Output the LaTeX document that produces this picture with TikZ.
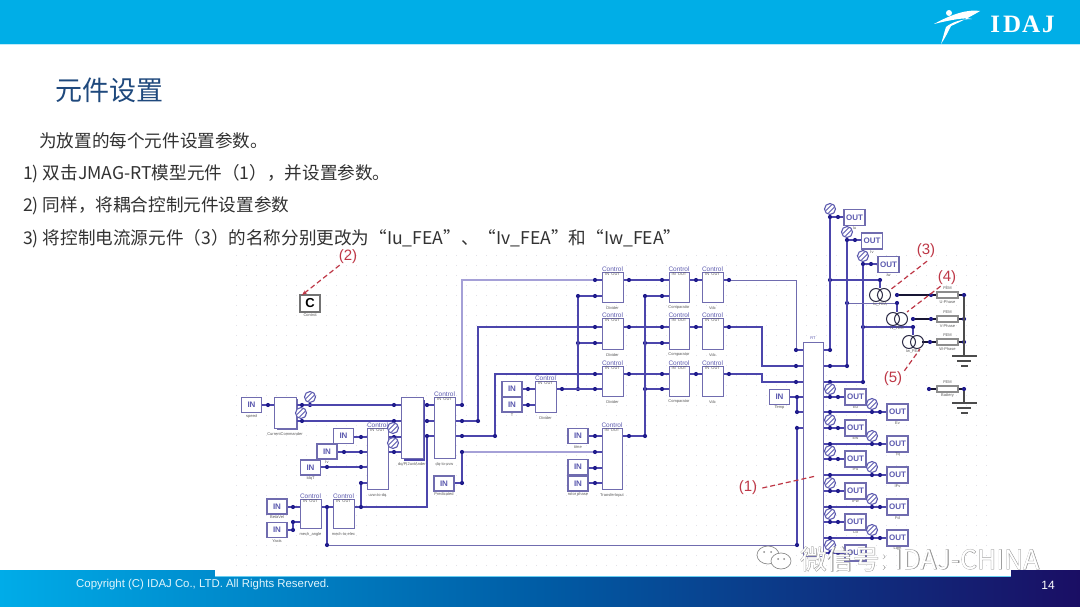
\documentclass[tikz,border=0pt]{standalone}
\usepackage{fontspec}
\setmainfont{Liberation Sans}
\newfontfamily\cjk{Noto Sans CJK SC}
\newfontfamily\cjkwm[FakeBold=2.2]{Noto Sans CJK SC}
\newfontfamily\logof{Liberation Serif}
\usetikzlibrary{arrows.meta,calc}
\definecolor{hdr}{RGB}{0,174,231}
\definecolor{ttl}{RGB}{31,73,125}
\definecolor{bodyc}{RGB}{50,50,50}
\definecolor{wiredk}{RGB}{76,70,172}
\definecolor{wirelt}{RGB}{165,160,215}
\definecolor{boxc}{RGB}{112,108,175}
\definecolor{dotc}{RGB}{32,28,140}
\definecolor{inkc}{RGB}{92,90,175}
\definecolor{redc}{RGB}{190,55,70}
\definecolor{griddot}{RGB}{225,225,232}
\definecolor{footl}{RGB}{0,172,232}
\definecolor{footm}{RGB}{0,92,165}
\definecolor{footr}{RGB}{26,14,100}
\tikzset{
 wire/.style={draw=wiredk,line width=1.15pt},
 wirem/.style={draw=boxc,line width=1pt},
 wirel/.style={draw=wirelt,line width=1.15pt},
 jd/.style={circle,fill=dotc,inner sep=0pt,minimum size=4.2pt},
 cbox/.style={draw=boxc,line width=1.1pt,fill=white,inner sep=0pt,rectangle},
 inb/.style={draw=boxc,line width=1.2pt,fill=white,inner sep=0pt,minimum width=20pt,minimum height=15pt,text=inkc,font=\bfseries\fontsize{8}{8}\selectfont},
 outb/.style={draw=boxc,line width=1.2pt,fill=white,inner sep=0pt,minimum width=21pt,minimum height=16pt,text=inkc,font=\bfseries\fontsize{8}{8}\selectfont},
 ctl/.style={text=inkc,font=\fontsize{6.5}{6.5}\selectfont,inner sep=0pt},
 tiny/.style={text=black!65,font=\fontsize{4}{4}\selectfont,inner sep=0pt},
 probe/.style={circle,draw=inkc,line width=1.1pt,fill=white,inner sep=0pt,minimum size=11pt,
   path picture={\draw[inkc,line width=.8pt] ([xshift=-1.5pt,yshift=-4pt]path picture bounding box.center) -- ([xshift=4pt,yshift=1.5pt]path picture bounding box.center);
                 \draw[inkc,line width=.8pt] ([xshift=-4pt,yshift=-1.5pt]path picture bounding box.center) -- ([xshift=1.5pt,yshift=4pt]path picture bounding box.center);}},
 srcc/.style={circle,draw=black!60!boxc,line width=1pt,inner sep=0pt,minimum size=13pt},
 resb/.style={draw=black!45,line width=1.1pt,fill=white,inner sep=0pt,minimum width=21pt,minimum height=6pt},
 redl/.style={text=redc,font=\fontsize{15}{15}\selectfont,inner sep=1pt},
 redd/.style={draw=redc,line width=1.2pt,dash pattern=on 5pt off 3pt},
 bodyt/.style={anchor=west,inner sep=0pt,text=bodyc,font=\cjk\fontsize{17.6}{18}\selectfont},
}
\newcommand{\cb}[6]{\node[cbox,minimum width=#4-#2,minimum height=#5-#3,anchor=north west] (#1) at (#2,#3) {};
 \node[tiny] (#1lab) at ($(#2,#5)!.5!(#4,#5)+(0,6)$) {#6};}
\newcommand{\ctlb}[6]{\cb{#1}{#2}{#3}{#4}{#5}{#6}
 \node[ctl,anchor=south] (#1ctl) at ($(#2,#3)!.5!(#4,#3)+(0,-.2)$) {Control};
 \node[tiny,anchor=north] (#1io) at ($(#2,#3)!.5!(#4,#3)+(0,.8)$) {IN\ \ OUT};}
\newcommand{\inb}[4]{\node[inb] (#1) at (#2,#3) {IN}; \node[tiny] (#1lab) at (#2,#3+11) {#4};}
\begin{document}
\begin{tikzpicture}[x=1pt,y=-1pt]
\useasboundingbox (0,0) rectangle (1080,607);
\fill[white] (0,0) rectangle (1080,607);
% header
\fill[hdr] (0,0) rectangle (1080,44);
\fill[hdr!25] (0,44) rectangle (1080,45.2);
% logo
\fill[white] (980,11) .. controls (968,9) and (952,14) .. (934,24) .. controls (950,20) and (966,17) .. (972,19) .. controls (962,19) and (952,22) .. (946,27) .. controls (944,33) and (943,38) .. (941,44) .. controls (945,38) and (948,32) .. (951,26) .. controls (960,22) and (972,16) .. (980,11);
\fill[white] (949,13) circle (3);
\node[text=white,font=\logof\bfseries\fontsize{25}{25}\selectfont,inner sep=0pt] (logo) at (1022.5,24) {I\kern3pt D\kern1pt A\kern2pt J};
% title + body
\node[anchor=west,inner sep=0pt,text=ttl,font=\cjk\fontsize{27}{28}\selectfont] (title) at (55,90) {元件设置};
\node[bodyt] (t0) at (39,141) {为放置的每个元件设置参数。};
\node[bodyt] (t1) at (23,174) {1) 双击JMAG-RT模型元件（1），并设置参数。};
\node[bodyt] (t2) at (23,206) {2) 同样，将耦合控制元件设置参数};
\node[bodyt] (t3) at (23,239) {3) 将控制电流源元件（3）的名称分别更改为“Iu\_FEA”、“Iv\_FEA”和“Iw\_FEA”};
% grid dots
\foreach \gy in {255,265,...,575} \foreach \gx in {236,246,...,986}
  \fill[griddot] (\gx,\gy) rectangle +(1.2,1.2);
% element C
\node[cbox,draw=black!55,line width=1.4pt,minimum width=20pt,minimum height=17pt,font=\bfseries\fontsize{13}{13}\selectfont,text=black] (ctrl) at (310,303.5) {C};
\node[tiny] (ctrllab) at (310,315) {Control};
% junctions
\foreach \n/\x/\y in {
 sp/268/405,c1/302/405,c2/310/405,c3/302/421,q1/394/405,q2/394/421,q3/394/437,q4/394/452,
 m1/427/405,m2/427/421,m3/427/436,v1/462/405,v2/462/421,v3/462/436,v4/462/452,v5/462/483,
 v2b/478/421,v3b/495/436,
 u1/361/437,u2/361/452,u3/361/467,u4/361/483,u5/361/507,i2/344/452,i3/327/467,
 e1/327/507,ee/327/545,x1/293/507,x2/293/522,x3/293/530,
 a1/595/280,a2/595/296,b1/595/327,b2/595/343,d1/595/374,d2/595/389,
 a3/629/280,b3/629/327,d3/629/374,
 a4/662/280,a5/662/296,b4/662/327,b5/662/343,d4/662/374,d5/662/389,
 a6/696/280,b6/696/327,d6/696/374,a7/729/280,b7/729/327,d7/729/374,
 g1/578/296,g2/578/343,g3/578/389,h1/645/296,h2/645/343,h3/645/389,h4/645/436,
 n1/528/389,n2/528/405,n3/562/389,
 w1/595/436,w2/595/452,w3/595/468,w4/595/483,w5/629/436,
 r1/796/350,r2/796/366,r3/796/382,r4/797/397,r5/807/397,r6/797/412,r7/807/412,r8/797/428,r9/807/428,ra/797/545,
 t1a/830/217,t1b/838/217,t2a/847/240,t2b/855/240,t3a/863/264,t3b/871/264,
 o1/830/350,o2/830/366,o3/830/382,o1b/830/280,o2b/847/366,o3b/863/382,o2c/847/303,o3c/863/327,
 s1/880/280,s2/897/303,s3/913/327,
 f1/897/295,f2/931/295,f3/964/295,f4/913/319,f5/931/319,f6/964/319,f7/930/342,f8/964/342,
 y1/929/389,y2/964/389}
 \node[jd] (\n) at (\x,\y) {};
\coordinate (gnd1) at (964,356);
\coordinate (gnd2) at (964,403);
\coordinate (mid2) at (762,366);
\coordinate (mid3) at (762,382);
% long wires
\draw[wirel] (v1) |- (a1);
\draw[wire] (v2) -- (v2b) -- (v2b |- b1) -- (b1);
\draw[wire] (v3) -- (v3b) -- (v3b |- d1) -- (d1);
\draw[wirel] (v4) -- (w2);
\draw[wire] (v4) -- (v5);
\draw[wire] (c1) -- (q1);
\draw[wire] (c3) -- (q2);
\draw[wire] (u5) -- (u4);
\draw[wire] (u5) -- (m3 |- u5) -- (m3);
\draw[wire] (e1) -- (ee);
\draw[wirem] (ee) -- (ra);
\draw[wire] (ra) -- (r8);
\draw[wire] (r4) -- (r6);
\draw[wire] (x2) -- (x3);
\draw[wire] (m1) -- (v1);
\draw[wire] (m2) -- (v2);
\draw[wire] (m3) -- (v3);
\draw[wire] (i2) -- (u2);
\draw[wire] (i3) -- (u3);
\draw[wire] (g1) -- (g3);
\draw[wire] (h1) -- (h4);
\draw[wire] (g1) -- (a2); \draw[wire] (g2) -- (b2); \draw[wire] (n3) -- (d2);
\draw[wire] (h1) -- (a5); \draw[wire] (h2) -- (b5); \draw[wire] (h3) -- (d5);
\draw[wire] (a3) -- (a4); \draw[wire] (b3) -- (b4); \draw[wire] (d3) -- (d4);
\draw[wire] (w5) -- (h4);
\draw[wirem] (a7) -| (r1);
\draw[wire] (b7) -- (mid2 |- b7) -- (mid2) -- (r2);
\draw[wire] (d7) -- (mid3 |- d7) -- (mid3) -- (r3);
% RT and upper right
\draw[wire] (t1a) -- (o1);
\draw[wire] (t2a) -- (o2b) -- (o2);
\draw[wire] (t3a) -- (o3b) -- (o3);
\draw[wire] (t1a) -- (t1b); \draw[wire] (t2a) -- (t2b); \draw[wire] (t3a) -- (t3b);
\draw[wire] (o1b) -- (s1);
\draw[wirem] (o2c) -- (s2);
\draw[wire] (o3c) -- (s3);
\draw[black!70!wiredk,line width=1.1pt] (f1) -- (f2) (f4) -- (f5) (f7 -| 922,0) -- (f7);
\draw[black!70,line width=1.2pt] (f3) -- (gnd1);
\draw[black!70,line width=1.2pt] (y2) -- (gnd2);
\foreach \g in {gnd1,gnd2}{
 \draw[black!70,line width=1.3pt] ($(\g)+(-12,0)$) -- ($(\g)+(13,0)$);
 \draw[black!70,line width=1.2pt] ($(\g)+(-7,5)$) -- ($(\g)+(7,5)$);
 \draw[black!70,line width=1.2pt] ($(\g)+(-3,10)$) -- ($(\g)+(4,10)$);
}
% boxes
\inb{ispeed}{251.5}{405}{speed}
\cb{cc}{274}{397}{296}{428}{CurrentCommander}
\draw[boxc,line width=1pt] (297.5,399) -- (297.5,429.5) -- (277,429.5);
\cb{dqpi}{401}{397}{423}{458}{dq/PI2uvtAnder}
\draw[wiredk,line width=1.2pt] (424.5,400) -- (424.5,460) -- (404,460);
\ctlb{dquvw}{434}{397}{455}{458}{dq-to-uvw}
\ctlb{uvwdq}{367}{428}{388}{489}{uvw-to-dq}
\ctlb{mech}{300}{499}{321}{528}{mech\_angle}
\ctlb{elec}{333}{499}{354}{528}{mech-to-elec}
\inb{i1}{343.5}{436}{}
\inb{i2b}{327}{451.5}{Iv}
\inb{i3b}{310.5}{467.5}{IdqT}
\inb{ibeta}{277}{506.5}{BetaVel}
\inb{iyaxis}{277}{530}{Yaxis}
\inb{ipred}{444}{483.5}{Predicated}
\inb{idv1}{512}{389}{}
\inb{idv2}{512}{404.5}{T}
\ctlb{divx}{535}{381}{556}{412}{Divider}
\foreach \nm/\ya/\yb in {ra/272/302,rb/318/349,rc/366/396}{
 \ctlb{\nm s}{602}{\ya}{623}{\yb}{Divider}
 \ctlb{\nm c}{669}{\ya}{689}{\yb}{Comparator}
 \ctlb{\nm v}{702}{\ya}{723}{\yb}{Vdc}
}
\ctlb{trns}{602}{428}{622}{489}{TransferInput}
\inb{itime}{578}{436}{time}
\inb{ia}{578}{467}{}
\inb{ib}{578}{483.5}{rotor phase}
\inb{itemp}{779.5}{397}{Temp}
\cb{rt}{803}{342}{823}{556}{}
\node[tiny,text=inkc] (rtname) at (813,338) {RT};
% stubs from junctions to box edges
\foreach \d/\b in {sp/cc.west,sp/ispeed.east,c1/cc.east,c3/cc.east,x1/mech.west,x2/mech.west,
 q1/dqpi.west,q2/dqpi.west,q3/dqpi.west,q4/dqpi.west,q3/uvwdq.east,q4/uvwdq.east,m1/dqpi.east,m2/dqpi.east,m1/dquvw.west,m2/dquvw.west,m3/dquvw.west,
 v1/dquvw.east,v2/dquvw.east,v3/dquvw.east,u1/uvwdq.west,u2/uvwdq.west,u3/uvwdq.west,u4/uvwdq.west,u1/i1.east,i2/i2b.east,i3/i3b.east,
 u5/elec.east,e1/elec.west,e1/mech.east,x1/ibeta.east,x3/iyaxis.east,v5/ipred.east,
 a1/ras.west,a2/ras.west,b1/rbs.west,b2/rbs.west,d1/rcs.west,d2/rcs.west,
 a3/ras.east,b3/rbs.east,d3/rcs.east,a4/rac.west,a5/rac.west,b4/rbc.west,b5/rbc.west,d4/rcc.west,d5/rcc.west,
 a6/rac.east,b6/rbc.east,d6/rcc.east,a6/rav.west,b6/rbv.west,d6/rcv.west,a7/rav.east,b7/rbv.east,d7/rcv.east,
 n1/divx.west,n2/divx.west,n3/divx.east,n1/idv1.east,n2/idv2.east,
 w1/trns.west,w2/trns.west,w3/trns.west,w4/trns.west,w5/trns.east,w1/itime.east,w3/ia.east,w4/ib.east,
 r1/rt.west,r2/rt.west,r3/rt.west,r4/rt.west,r6/rt.west,r8/rt.west,o1/rt.east,o2/rt.east,o3/rt.east,r4/itemp.east}
 \draw[wire] (\d) -- (\d -| \b);
\foreach \n/\x/\y in {p1/310/397,p2/301/413,p3/393/428,p4/393/443,
  p5/830/209,p6/847/232,p7/863/256}
 \node[probe] (\n) at (\x,\y) {};
\foreach \n/\x/\y/\l in {ot1/854.5/217.5/Iu,ot2/872/241/Iv,ot3/888.5/264.5/Iw}{
 \node[outb] (\n) at (\x,\y) {OUT};
 \node[tiny] (\n lab) at (\x,\y+11) {\l};
}
\draw[wire] (t1b) -- (ot1.west |- t1b);
\draw[wire] (t2b) -- (ot2.west |- t2b);
\draw[wire] (t3b) -- (ot3.west |- t3b);
% lower right stacks
\foreach \yy/\nm in {397/Eu,428/Ew,459/IFu,491/IFw,522/Ld}{
 \node[tiny] (L\yy l) at (855.5,\yy+10.5) {\nm};
}
\foreach \yy in {397,428,459,491,522,553}{
 \node[jd] (L\yy a) at (830,\yy) {};
 \node[jd] (L\yy b) at (838,\yy) {};
 \node[outb] (L\yy o) at (855.5,\yy) {OUT};
 \draw[wire] (L\yy a -| rt.east) -- (L\yy a) -- (L\yy b) -- (L\yy o);
 \node[probe] (L\yy p) at (830,\yy-8) {};
}
\foreach \yy/\nm in {412/Ev,444/Tq,475/IFv,507/Fd,538/Lqm}{
 \node[jd] (R\yy a) at (830,\yy) {};
 \node[jd] (R\yy b) at (872,\yy) {};
 \node[jd] (R\yy c) at (880,\yy) {};
 \node[outb] (R\yy o) at (897.5,\yy) {OUT};
 \node[tiny] (R\yy l) at (897.5,\yy+11) {\nm};
 \draw[wire] (R\yy a -| rt.east) -- (R\yy a) -- (R\yy b) -- (R\yy c) -- (R\yy o);
 \node[probe] (R\yy p) at (872,\yy-8) {};
}
% sources
\foreach \n/\x/\y/\l in {sa/880/295/Iu\_FEA,sb/897/319/Iv\_FEA,sc/913/342/Iw\_FEA}{
 \node[srcc] (\n l) at (\x-4,\y) {};
 \node[srcc] (\n r) at (\x+4,\y) {};
 \node[tiny] (\n t) at (\x,\y+9.5) {\l};
}
\draw[wire] (s1) -- (s1 |- sal.north);
\draw[wire] (s2) -- (s2 |- sbl.north);
\draw[wire] (s3) -- (s3 |- scl.north);
% resistors
\foreach \n/\y/\l in {ru/295/U-Phase,rv/319/V-Phase,rw/342/W-Phase,rbt/389/Battery}{
 \node[resb] (\n) at (947.5,\y) {};
 \node[tiny] (\n a) at (947.5,\y-6.5) {FEM};
 \node[tiny] (\n b) at (947.5,\y+7) {\l};
}
\draw[black!70!wiredk,line width=1.1pt] (f2) -- (ru) (ru) -- (f3) (f5) -- (rv) (rv) -- (f6) (f7) -- (rw) (rw) -- (f8) (y1) -- (rbt) (rbt) -- (y2);
% red callouts
\node[redl] (l1) at (748,488) {(1)};
\node[redl] (l2) at (348,257) {(2)};
\node[redl] (l3) at (926,251) {(3)};
\node[redl] (l4) at (947,278) {(4)};
\node[redl] (l5) at (893,379) {(5)};
\coordinate (e1t) at (816,476);
\coordinate (e2t) at (302,295);
\coordinate (e3t) at (890,290);
\coordinate (e4t) at (907,312);
\coordinate (e5t) at (920,349);
\draw[redd] (l1.east)++(4,0) -- (e1t);
\draw[redd,-{Stealth[length=5pt]}] (l2.south west)++(2,0) -- (e2t);
\draw[redd] (l3.south)++(1,2) -- (e3t);
\draw[redd] (l4.south west)++(4,0) -- (e4t);
\draw[redd] (l5.north east)++(1,0) -- (e5t);
% footer
\shade[left color=footl,right color=footr,middle color=footm] (0,570) rectangle (1080,607);
\fill[white] (215,569) rectangle (1011,576);
\draw[hdr!60,line width=.7pt] (215,576) -- (1011,576);
\node[anchor=west,inner sep=0pt,text=white!88!hdr,font=\fontsize{11.4}{11.4}\selectfont] (copy) at (76,585) {Copyright (C) IDAJ Co., LTD. All Rights Reserved.};
\node[inner sep=0pt,text=white,font=\fontsize{12}{12}\selectfont] (pg) at (1048,585) {14};
% watermark
\draw[black!45,fill=white,line width=.7pt] (768,555) ellipse (11 and 9);
\draw[black!45,fill=white,line width=.7pt] (781,561) ellipse (10 and 8);
\fill[black!45] (764,552) circle (1) (771,552) circle (1) (778,559) circle (1) (784,559) circle (1);
\node[anchor=west,inner sep=0pt,font=\fontsize{26.5}{27}\selectfont] (wm) at (800,559) {\rlap{\cjkwm\color{black!42}微信号: IDAJ-CHINA}{\cjk\color{white}微信号: IDAJ-CHINA}};
\end{tikzpicture}
\end{document}
